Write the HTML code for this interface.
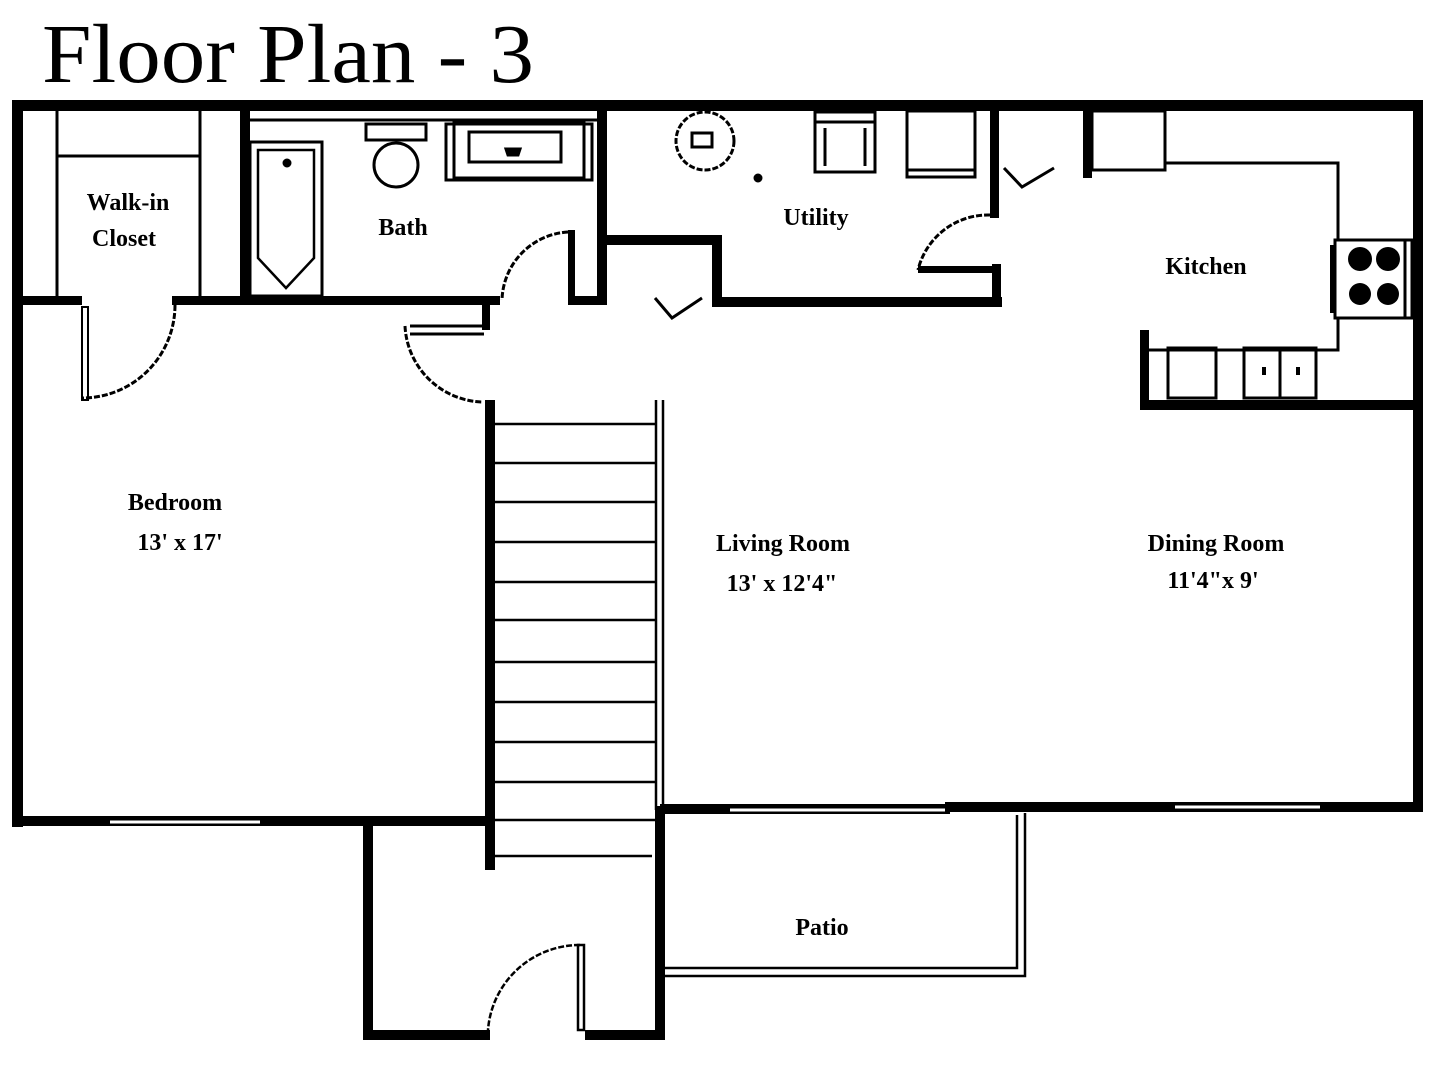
<!DOCTYPE html>
<html><head><meta charset="utf-8"><style>
html,body{margin:0;padding:0;background:#fff;}
svg{display:block;}
text{font-family:"Liberation Serif",serif;fill:#000;}
.lbl{font-size:24px;font-weight:bold;}
</style></head><body>
<svg width="1440" height="1080" viewBox="0 0 1440 1080" xmlns="http://www.w3.org/2000/svg">
<text x="42" y="82" font-size="84" textLength="492" lengthAdjust="spacingAndGlyphs" fill="#111">Floor Plan - 3</text>

<g fill="#000">
<!-- outer walls -->
<rect x="12" y="100" width="1411" height="11"/>
<rect x="12" y="100" width="11" height="727"/>
<rect x="1413" y="100" width="10" height="712"/>
<rect x="12" y="816" width="480" height="10"/>
<rect x="660" y="804" width="290" height="10"/>
<rect x="945" y="802" width="478" height="10"/>
<!-- entry -->
<rect x="363" y="818" width="10" height="222"/>
<rect x="363" y="1030" width="127" height="10"/>
<rect x="585" y="1030" width="80" height="10"/>
<rect x="655" y="806" width="10" height="234"/>
<!-- stair wall -->
<rect x="485" y="400" width="10" height="470"/>
<!-- closet/bath walls -->
<rect x="240" y="110" width="10" height="195"/>
<rect x="12" y="296" width="70" height="9"/>
<rect x="172" y="296" width="328" height="9"/>
<rect x="482" y="300" width="8" height="30"/>
<rect x="568" y="230" width="7" height="75"/>
<rect x="568" y="296" width="39" height="9"/>
<rect x="597" y="110" width="10" height="195"/>
<!-- utility -->
<rect x="607" y="235" width="113" height="10"/>
<rect x="712" y="235" width="10" height="72"/>
<rect x="712" y="297" width="290" height="10"/>
<rect x="992" y="264" width="9" height="43"/>
<rect x="918" y="266" width="80" height="7"/>
<rect x="990" y="110" width="9" height="108"/>
<!-- kitchen -->
<rect x="1083" y="110" width="9" height="68"/>
<rect x="1140" y="330" width="9" height="80"/>
<rect x="1140" y="400" width="283" height="10"/>
</g>

<g fill="none" stroke="#000" stroke-width="3">
<!-- closet -->
<line x1="57" y1="111" x2="57" y2="296"/>
<line x1="200" y1="111" x2="200" y2="296"/>
<line x1="57" y1="156" x2="200" y2="156"/>
<rect x="82" y="307" width="6" height="93" stroke-width="2"/>
<path d="M175 305 A93 93 0 0 1 82 398" stroke-dasharray="6 2"/>
<!-- bath -->
<line x1="250" y1="120" x2="597" y2="120"/>
<rect x="250" y="142" width="72" height="154"/>
<path d="M258 150 H314 V258 L286 288 L258 258 Z" stroke-width="2.5"/>
<circle cx="287" cy="163" r="3" fill="#000"/>
<rect x="366" y="124" width="60" height="16"/>
<ellipse cx="396" cy="165" rx="22" ry="22"/>
<rect x="446" y="124" width="146" height="56"/>
<rect x="454" y="122" width="130" height="56"/>
<rect x="469" y="132" width="92" height="30"/>
<path d="M506 149 h14 l-2 6 h-10 z" fill="#000"/>
<!-- bath door -->
<path d="M568 232 A70 70 0 0 0 502 300" stroke-dasharray="6 2"/>
<!-- bedroom door -->
<path d="M410 326 H484 M410 334 H484" stroke-width="3"/>
<path d="M405 326 A80 80 0 0 0 482 402" stroke-dasharray="6 2"/>
<!-- utility items -->
<circle cx="705" cy="141" r="29" stroke-dasharray="6 2"/>
<rect x="692" y="133" width="20" height="14"/>
<circle cx="758" cy="178" r="3" fill="#000"/>
<rect x="815" y="112" width="60" height="60"/>
<line x1="815" y1="122" x2="875" y2="122"/>
<line x1="825" y1="128" x2="825" y2="166"/><line x1="865" y1="128" x2="865" y2="166"/>
<rect x="907" y="111" width="68" height="66"/>
<line x1="907" y1="170" x2="975" y2="170"/>
<path d="M990 215 A72 72 0 0 0 918 270" stroke-dasharray="6 2"/>
<!-- check marks -->
<path d="M655 298 L672 318 L702 298"/>
<path d="M1004 168 L1022 187 L1054 168"/>
<!-- kitchen -->
<rect x="1092" y="111" width="73" height="59"/>
<polyline points="1165,163 1338,163 1338,240"/>
<rect x="1335" y="240" width="77" height="78"/>
<line x1="1405" y1="240" x2="1405" y2="318"/>
<polyline points="1338,318 1338,350 1148,350"/>
<rect x="1168" y="348" width="48" height="50"/>
<rect x="1244" y="348" width="72" height="50"/>
<line x1="1280" y1="348" x2="1280" y2="398"/>
</g>
<g fill="#000">
<rect x="1330" y="245" width="6" height="68"/>
<circle cx="1360" cy="259" r="12"/><circle cx="1388" cy="259" r="12"/>
<circle cx="1360" cy="294" r="11"/><circle cx="1388" cy="294" r="11"/>
<rect x="1262" y="367" width="4" height="8"/><rect x="1296" y="367" width="4" height="8"/>
</g>
<g fill="none" stroke="#000" stroke-width="2.5">
<!-- stairs -->
<line x1="656" y1="400" x2="656" y2="810"/>
<line x1="663" y1="400" x2="663" y2="806"/>
<g>
<line x1="495" y1="424" x2="656" y2="424"/>
<line x1="495" y1="463" x2="656" y2="463"/>
<line x1="495" y1="502" x2="656" y2="502"/>
<line x1="495" y1="542" x2="656" y2="542"/>
<line x1="495" y1="582" x2="656" y2="582"/>
<line x1="495" y1="620" x2="656" y2="620"/>
<line x1="495" y1="662" x2="656" y2="662"/>
<line x1="495" y1="702" x2="656" y2="702"/>
<line x1="495" y1="742" x2="656" y2="742"/>
<line x1="495" y1="782" x2="656" y2="782"/>
<line x1="495" y1="820" x2="656" y2="820"/>
<line x1="495" y1="856" x2="652" y2="856"/>
</g>
<!-- windows -->
<line x1="110" y1="822" x2="260" y2="822" stroke="#fff" stroke-width="3"/>
<line x1="730" y1="810" x2="945" y2="810" stroke="#fff" stroke-width="3"/>
<line x1="1175" y1="807" x2="1320" y2="807" stroke="#fff" stroke-width="3"/>
<!-- entry door -->
<rect x="578" y="945" width="6" height="85"/>
<path d="M580 945 A92 92 0 0 0 488 1030" stroke-dasharray="6 2"/>
<!-- patio -->
<polyline points="665,968 1017,968 1017,815"/>
<polyline points="665,976 1025,976 1025,813"/>
</g>

<text class="lbl" x="128" y="210" text-anchor="middle">Walk-in</text>
<text class="lbl" x="124" y="246" text-anchor="middle">Closet</text>
<text class="lbl" x="403" y="235" text-anchor="middle">Bath</text>
<text class="lbl" x="816" y="225" text-anchor="middle">Utility</text>
<text class="lbl" x="1206" y="274" text-anchor="middle" font-size="28">Kitchen</text>
<text class="lbl" x="175" y="510" text-anchor="middle">Bedroom</text>
<text class="lbl" x="180" y="550" text-anchor="middle">13' x 17'</text>
<text class="lbl" x="783" y="551" text-anchor="middle">Living Room</text>
<text class="lbl" x="782" y="591" text-anchor="middle">13' x 12'4"</text>
<text class="lbl" x="1216" y="551" text-anchor="middle">Dining Room</text>
<text class="lbl" x="1213" y="588" text-anchor="middle">11'4"x 9'</text>
<text class="lbl" x="822" y="935" text-anchor="middle">Patio</text>
</svg>
</body></html>
